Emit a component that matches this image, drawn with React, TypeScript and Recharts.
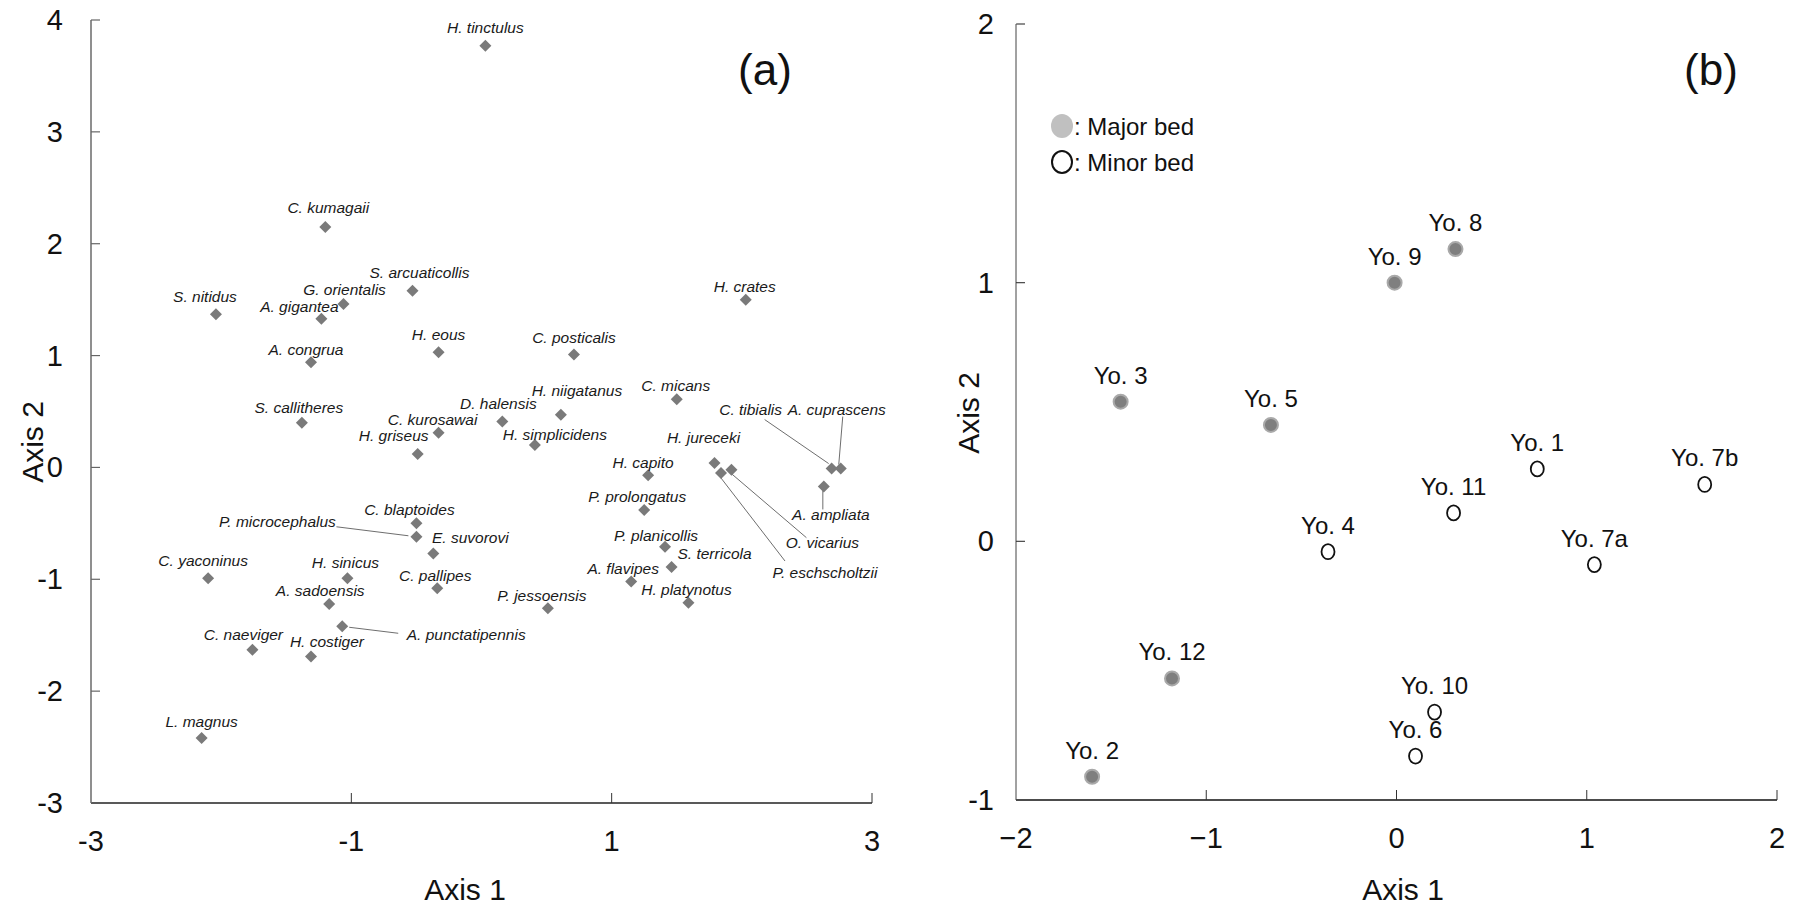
import React from 'react';
import { ScatterChart, Scatter, XAxis, YAxis } from 'recharts';

const FONT = '"Liberation Sans", Arial, sans-serif';

// (a) species ordination
const speciesNames = [
  'H. tinctulus', 'C. kumagaii', 'S. arcuaticollis', 'G. orientalis', 'S. nitidus',
  'A. gigantea', 'H. crates', 'H. eous', 'C. posticalis', 'A. congrua',
  'C. micans', 'H. niigatanus', 'D. halensis', 'S. callitheres', 'C. kurosawai',
  'H. griseus', 'H. simplicidens', 'H. capito', 'H. jureceki', 'P. eschscholtzii',
  'O. vicarius', 'C. tibialis', 'A. cuprascens', 'A. ampliata', 'P. prolongatus',
  'C. blaptoides', 'P. microcephalus', 'E. suvorovi', 'P. planicollis', 'S. terricola',
  'C. yaconinus', 'H. sinicus', 'C. pallipes', 'A. flavipes', 'A. sadoensis',
  'P. jessoensis', 'H. platynotus', 'A. punctatipennis', 'C. naeviger', 'H. costiger',
  'L. magnus',
];
const speciesAxis1 = [
  0.03, -1.2, -0.53, -1.06, -2.04,
  -1.23, 2.03, -0.33, 0.71, -1.31,
  1.5, 0.61, 0.16, -1.38, -0.33,
  -0.49, 0.41, 1.28, 1.79, 1.84,
  1.92, 2.69, 2.76, 2.63, 1.25,
  -0.5, -0.5, -0.37, 1.41, 1.46,
  -2.1, -1.03, -0.34, 1.15, -1.17,
  0.51, 1.59, -1.07, -1.76, -1.31,
  -2.15,
];
const speciesAxis2 = [
  3.77, 2.15, 1.58, 1.46, 1.37,
  1.33, 1.5, 1.03, 1.01, 0.94,
  0.61, 0.47, 0.41, 0.4, 0.31,
  0.12, 0.2, -0.07, 0.04, -0.05,
  -0.02, -0.01, -0.01, -0.17, -0.38,
  -0.5, -0.62, -0.77, -0.71, -0.89,
  -0.99, -0.99, -1.08, -1.02, -1.22,
  -1.26, -1.21, -1.42, -1.63, -1.69,
  -2.42,
];
const ticksAx = [-3, -1, 1, 3];
const ticksAy = [-3, -2, -1, 0, 1, 2, 3, 4];

// (b) site ordination
const siteNames = ['Yo. 1', 'Yo. 2', 'Yo. 3', 'Yo. 4', 'Yo. 5', 'Yo. 6', 'Yo. 7a', 'Yo. 7b', 'Yo. 8', 'Yo. 9', 'Yo. 10', 'Yo. 11', 'Yo. 12'];
const siteAxis1 = [0.74, -1.6, -1.45, -0.36, -0.66, 0.1, 1.04, 1.62, 0.31, -0.01, 0.2, 0.3, -1.18];
const siteAxis2 = [0.28, -0.91, 0.54, -0.04, 0.45, -0.83, -0.09, 0.22, 1.13, 1.0, -0.66, 0.11, -0.53];
const siteBed = ['minor', 'major', 'major', 'minor', 'major', 'minor', 'minor', 'minor', 'major', 'major', 'minor', 'minor', 'major'];
const ticksBx = [-2, -1, 0, 1, 2];
const ticksBy = [-1, 0, 1, 2];

// label placement (px, relative to the marker)
const labelOffset: Record<string, [number, number]> = {
  'H. tinctulus': [0, -18], 'C. kumagaii': [3, -19], 'S. arcuaticollis': [7, -18],
  'G. orientalis': [1, -15], 'S. nitidus': [-11, -18], 'A. gigantea': [-22, -12],
  'H. crates': [-1, -13], 'H. eous': [0, -18], 'C. posticalis': [0, -17],
  'A. congrua': [-5, -13], 'C. micans': [-1, -14], 'H. niigatanus': [16, -24],
  'D. halensis': [-4, -18], 'S. callitheres': [-3, -15], 'C. kurosawai': [-6, -13],
  'H. griseus': [-24, -19], 'H. simplicidens': [20, -11], 'H. capito': [-5, -13],
  'H. jureceki': [-11, -25], 'P. eschscholtzii': [104, 99], 'O. vicarius': [91, 73],
  'C. tibialis': [-81, -59], 'A. cuprascens': [-4, -59], 'A. ampliata': [7, 28],
  'P. prolongatus': [-7, -13], 'C. blaptoides': [-7, -14], 'P. microcephalus': [-139, -15],
  'E. suvorovi': [37, -16], 'P. planicollis': [-9, -11], 'S. terricola': [43, -13],
  'C. yaconinus': [-5, -18], 'H. sinicus': [-2, -16], 'C. pallipes': [-2, -13],
  'A. flavipes': [-8, -13], 'A. sadoensis': [-9, -13], 'P. jessoensis': [-6, -13],
  'H. platynotus': [-2, -13], 'A. punctatipennis': [124, 8], 'C. naeviger': [-9, -15],
  'H. costiger': [16, -15], 'L. magnus': [0, -17],
};
const leaders: Record<string, [number, number, number, number]> = {
  'P. microcephalus': [-80, -10, -8, -1],
  'A. punctatipennis': [7, 1, 56, 7],
  'C. tibialis': [-3, -5, -67, -49],
  'A. cuprascens': [-2, -4, 2, -52],
  'A. ampliata': [-1, 4, -1, 23],
  'O. vicarius': [0, 4, 75, 68],
  'P. eschscholtzii': [0, 5, 64, 88],
};

const speciesData = speciesNames.map((name, i) => ({ name, x: speciesAxis1[i], y: speciesAxis2[i] }));
const siteData = siteNames.map((name, i) => ({ name, x: siteAxis1[i], y: siteAxis2[i], bed: siteBed[i] }));

function SpeciesMark(props: any) {
  const { cx, cy, payload } = props;
  const name = payload.name;
  const [dx, dy] = labelOffset[name] || [0, -16];
  const lead = leaders[name];
  const s = 6;
  return (
    <g>
      {lead && (
        <line x1={cx + lead[0]} y1={cy + lead[1]} x2={cx + lead[2]} y2={cy + lead[3]} stroke="#6e6e6e" strokeWidth={1} />
      )}
      <polygon points={`${cx},${cy - s} ${cx + s},${cy} ${cx},${cy + s} ${cx - s},${cy}`} fill="#7a7a7a" />
      <text x={cx + dx} y={cy + dy} textAnchor="middle" dominantBaseline="central" fontStyle="italic"
        fontSize={15.5} fontFamily={FONT} fill="#1a1a1a">
        {name}
      </text>
    </g>
  );
}

function SiteMark(props: any) {
  const { cx, cy, payload } = props;
  return (
    <g>
      {payload.bed === 'major' ? (
        <circle cx={cx} cy={cy} r={7} fill="#7f7f7f" stroke="#a9a9a9" strokeWidth={2} />
      ) : (
        <ellipse cx={cx} cy={cy} rx={6.5} ry={7.5} fill="#fff" stroke="#111" strokeWidth={1.8} />
      )}
      <text x={cx} y={cy - 18} textAnchor="middle" fontSize={24} fontFamily={FONT} fill="#111">
        {payload.name}
      </text>
    </g>
  );
}

const xTick = (min: number, fmt: (v: number) => string) => (props: any) => {
  const { x, y, payload } = props;
  return (
    <g>
      {payload.value !== min && <line x1={x} y1={y} x2={x} y2={y - 10} stroke="#333" strokeWidth={1} />}
      <text x={x} y={y + 48} textAnchor="middle" fontSize={29} fontFamily={FONT} fill="#111">
        {fmt(payload.value)}
      </text>
    </g>
  );
};

const yTick = (min: number, gap: number, stroke: string) => (props: any) => {
  const { x, y, payload } = props;
  return (
    <g>
      {payload.value !== min && <line x1={x} y1={y} x2={x + 9} y2={y} stroke={stroke} strokeWidth={1.2} />}
      <text x={x - gap} y={y + 10} textAnchor="end" fontSize={29} fontFamily={FONT} fill="#111">
        {String(payload.value)}
      </text>
    </g>
  );
};

const plainFmt = (v: number) => String(v);
const minusFmt = (v: number) => (v < 0 ? '\u2212' + Math.abs(v) : String(v));

export default function App() {
  return (
    <div style={{ position: 'absolute', left: 0, top: 0, width: 1800, height: 906, background: '#fff', fontFamily: FONT }}>
      <div style={{ position: 'absolute', left: 0, top: 0 }}>
        <ScatterChart width={900} height={906} margin={{ top: 20, right: 28, bottom: 43, left: 31 }}>
          <XAxis type="number" dataKey="x" domain={[-3, 3]} ticks={ticksAx} interval={0} height={60}
            tickSize={0} tickMargin={0} tickLine={false} tick={xTick(-3, plainFmt)}
            axisLine={{ stroke: '#222', strokeWidth: 1.3 }} />
          <YAxis type="number" dataKey="y" domain={[-3, 4]} ticks={ticksAy} interval={0} width={60}
            tickSize={0} tickMargin={0} tickLine={false} tick={yTick(-3, 28, '#666')}
            axisLine={{ stroke: '#6a6a6a', strokeWidth: 1.5 }} />
          <Scatter data={speciesData} shape={SpeciesMark} isAnimationActive={false} />
        </ScatterChart>
      </div>
      <div style={{ position: 'absolute', left: 900, top: 0 }}>
        <ScatterChart width={900} height={906} margin={{ top: 24, right: 23, bottom: 46, left: 56 }}>
          <XAxis type="number" dataKey="x" domain={[-2, 2]} ticks={ticksBx} interval={0} height={60}
            tickSize={0} tickMargin={0} tickLine={false} tick={xTick(-2, minusFmt)}
            axisLine={{ stroke: '#111', strokeWidth: 1.3 }} />
          <YAxis type="number" dataKey="y" domain={[-1, 2]} ticks={ticksBy} interval={0} width={60}
            tickSize={0} tickMargin={0} tickLine={false} tick={yTick(-1, 22, '#444')}
            axisLine={{ stroke: '#444', strokeWidth: 1 }} />
          <Scatter data={siteData} shape={SiteMark} isAnimationActive={false} />
        </ScatterChart>
      </div>
      <svg width={1800} height={906} style={{ position: 'absolute', left: 0, top: 0, pointerEvents: 'none' }}>
        <g fontFamily={FONT} fill="#111">
          <text x={765} y={85} textAnchor="middle" fontSize={44}>(a)</text>
          <text x={1711} y={85} textAnchor="middle" fontSize={44}>(b)</text>
          <text x={465} y={900} textAnchor="middle" fontSize={30}>Axis 1</text>
          <text x={1403} y={900} textAnchor="middle" fontSize={30}>Axis 1</text>
          <text x={43} y={442} textAnchor="middle" fontSize={30} transform="rotate(-90, 43, 442)">Axis 2</text>
          <text x={979} y={413} textAnchor="middle" fontSize={30} transform="rotate(-90, 979, 413)">Axis 2</text>
          <ellipse cx={1062} cy={126} rx={11} ry={12} fill="#c0c0c0" />
          <text x={1074} y={135} fontSize={24}>: Major bed</text>
          <ellipse cx={1062} cy={162} rx={10} ry={11} fill="none" stroke="#111" strokeWidth={2} />
          <text x={1074} y={171} fontSize={24}>: Minor bed</text>
        </g>
      </svg>
    </div>
  );
}
